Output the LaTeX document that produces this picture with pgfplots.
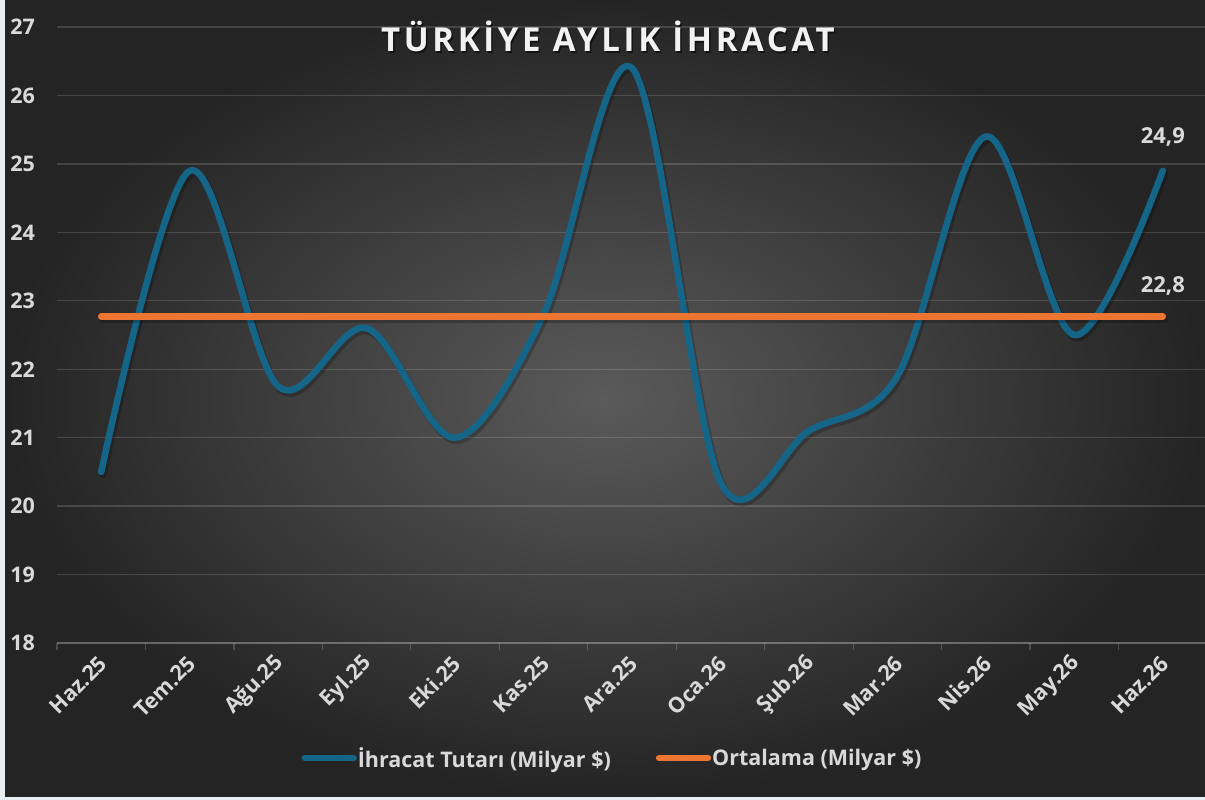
\documentclass[border=0pt]{standalone}
\usepackage{pgfplots}
\pgfplotsset{compat=1.18}
\usepackage{fontspec}
\setmainfont{Open Sans}
\newfontfamily\titlefont[LetterSpace=11]{Open Sans}
\definecolor{lineblue}{RGB}{21,101,137}
\definecolor{lineorange}{RGB}{237,117,50}
\definecolor{txt}{RGB}{217,217,217}
\definecolor{frame}{RGB}{230,238,242}
\definecolor{bginner}{RGB}{90,90,90}
\definecolor{bgouter}{RGB}{36,36,36}
\begin{document}
\begin{tikzpicture}[x=1pt,y=1pt]
\path[use as bounding box, fill=frame] (0,0) rectangle (1205,800);
\shade[inner color=bginner, outer color=bgouter] (5,3) rectangle (1205,800);
\begin{axis}[
  at={(57pt,157pt)}, anchor=south west,
  scale only axis, width=1150pt, height=616pt,
  xmin=-0.5, xmax=12.5, ymin=18, ymax=27,
  axis x line*=bottom, axis y line*=left,
  y axis line style={draw=none},
  x axis line style={draw=white, draw opacity=0.18, line width=1.3pt},
  xtick={0,...,12},
  xticklabels={Haz.25,Tem.25,Ağu.25,Eyl.25,Eki.25,Kas.25,Ara.25,Oca.26,Şub.26,Mar.26,Nis.26,May.26,Haz.26},
  minor xtick={-0.5,0.5,...,12.5},
  ytick={18,...,27},
  major tick length=0pt, minor tick length=7pt,
  tick align=outside,
  minor tick style={draw=white, draw opacity=0.18, line width=1.3pt},
  ymajorgrids,
  major grid style={draw=white, draw opacity=0.15, line width=1.3pt},
  /pgf/number format/assume math mode=true,
  yticklabel style={font=\bfseries\fontsize{21.5}{25}\selectfont, text=txt, anchor=east, inner sep=0pt, xshift=-22pt},
  xticklabel style={font=\bfseries\fontsize{21.5}{25}\selectfont, text=txt, xshift=2pt, yshift=-17pt, rotate=45, anchor=east, inner sep=0pt},
  legend style={at={(0.4826,-0.1867)}, anchor=center, draw=none, fill=none, text=txt,
    font=\bfseries\fontsize{21.5}{25}\selectfont, inner sep=0pt, nodes={inner sep=1pt},
    /tikz/every even column/.append style={column sep=44pt}},
  legend columns=2,
  legend image code/.code={\draw[#1, line width=6.5pt, line cap=round] (3.25pt,0) -- (52pt,0);},
]
\addplot[black, opacity=0.22, line width=7pt, smooth, tension=0.55, line cap=round, xshift=2pt, yshift=-3pt, forget plot] coordinates {
(0,20.5)(1,24.9)(2,21.75)(3,22.6)(4,21.0)(5,22.8)(6,26.4)(7,20.35)(8,21.1)(9,21.9)(10,25.4)(11,22.5)(12,24.9)};
\addplot[lineblue, line width=6.5pt, smooth, tension=0.55, line cap=round, line join=round] coordinates {
(0,20.5)(1,24.9)(2,21.75)(3,22.6)(4,21.0)(5,22.8)(6,26.4)(7,20.35)(8,21.1)(9,21.9)(10,25.4)(11,22.5)(12,24.9)};
\addlegendentry{İhracat Tutarı (Milyar \$)}
\addplot[black, opacity=0.22, line width=7pt, line cap=round, xshift=2pt, yshift=-3pt, forget plot] coordinates {(0,22.77)(12,22.77)};
\addplot[lineorange, line width=6.5pt, line cap=round] coordinates {(0,22.77)(12,22.77)};
\addlegendentry{Ortalama (Milyar \$)}
\node[font=\bfseries\fontsize{22}{26}\selectfont, text=txt, anchor=base, yshift=27pt] at (axis cs:12,24.9) {24,9};
\node[font=\bfseries\fontsize{22}{26}\selectfont, text=txt, anchor=base, yshift=24pt] at (axis cs:12,22.77) {22,8};
\end{axis}
\node[font=\titlefont\bfseries\fontsize{33}{38}\selectfont, text=black, opacity=0.55, anchor=base] at (609.5,746.5) {TÜRKİYE AYLIK İHRACAT};
\node[font=\titlefont\bfseries\fontsize{33}{38}\selectfont, text={rgb,255:red,242;green,242;blue,242}, anchor=base] at (608,748) {TÜRKİYE AYLIK İHRACAT};
\end{tikzpicture}
\end{document}
